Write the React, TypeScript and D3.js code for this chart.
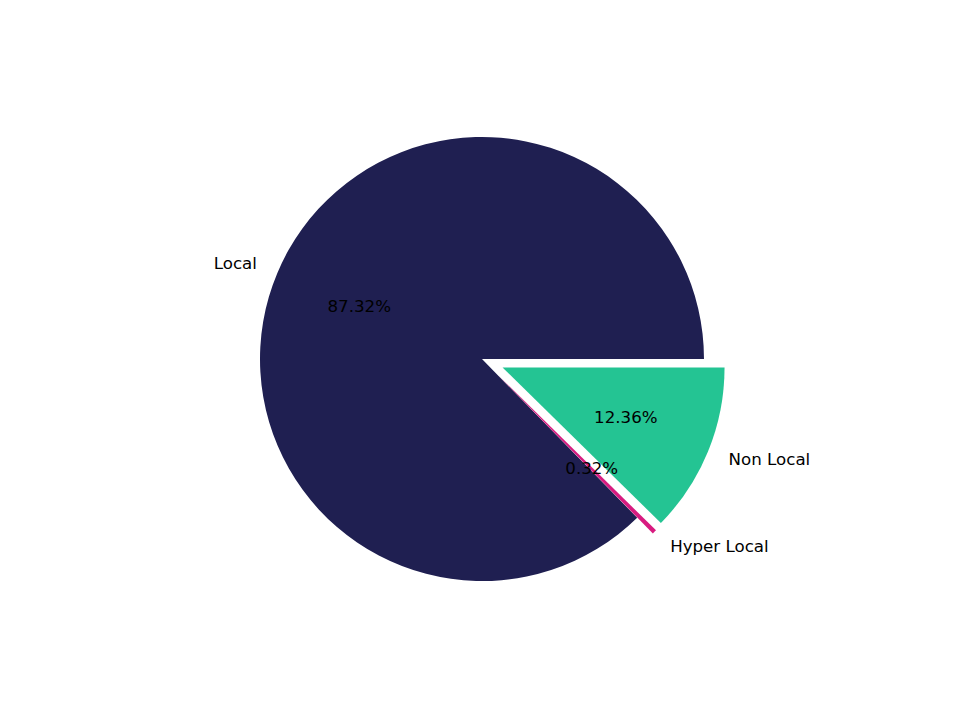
import * as d3 from "d3";
import { useEffect, useRef } from "react";

const labels = ["Local", "Hyper Local", "Non Local"];
const values = [87.32, 0.32, 12.36];
const colors = ["#1f1f51", "#d81b80", "#24c493"];
const explode = [0, 0.1, 0.1];

const App = () => {
    const svgRef = useRef<SVGSVGElement | null>(null);

    const dimensions = { width: 960, height: 720 };
    const center = { x: 482, y: 359 };
    const radius = 222;
    const fontSize = 16.67;

    useEffect(() => {
        const svg = d3.select(svgRef.current);
        svg.selectAll("*").remove();

        const data = labels.map((label, i) => ({
            label,
            value: values[i],
            color: colors[i],
            explode: explode[i],
        }));

        // matplotlib style: start at 3 o'clock, go counterclockwise
        const pie = d3
            .pie<(typeof data)[number]>()
            .sort(null)
            .value((d) => d.value)
            .startAngle(Math.PI / 2)
            .endAngle(Math.PI / 2 - 2 * Math.PI);

        const arc = d3.arc<d3.PieArcDatum<(typeof data)[number]>>()
            .innerRadius(0)
            .outerRadius(radius);

        const arcs = pie(data);

        const g = svg
            .append("g")
            .attr("transform", `translate(${center.x}, ${center.y})`);

        const point = (a: number, r: number) => [Math.sin(a) * r, -Math.cos(a) * r];
        const offset = (d: d3.PieArcDatum<(typeof data)[number]>) =>
            point((d.startAngle + d.endAngle) / 2, d.data.explode * radius);

        // wedges
        arcs.forEach((d) => {
            const [ox, oy] = offset(d);
            g.append("path")
                .attr("transform", `translate(${ox}, ${oy})`)
                .attr("d", arc(d))
                .attr("fill", d.data.color);
        });

        // labels and percentages on top
        arcs.forEach((d) => {
            const mid = (d.startAngle + d.endAngle) / 2;
            const [ox, oy] = offset(d);

            const [lx, ly] = point(mid, 1.1 * radius);
            g.append("text")
                .attr("x", ox + lx)
                .attr("y", oy + ly)
                .attr("dy", "0.28em")
                .attr("text-anchor", lx > 0 ? "start" : "end")
                .attr("font-family", "DejaVu Sans")
                .attr("font-size", fontSize)
                .attr("fill", "#000")
                .text(d.data.label);

            const [px, py] = point(mid, 0.6 * radius);
            g.append("text")
                .attr("x", ox + px)
                .attr("y", oy + py)
                .attr("dy", "0.28em")
                .attr("text-anchor", "middle")
                .attr("font-family", "DejaVu Sans")
                .attr("font-size", fontSize)
                .attr("fill", "#000")
                .text(`${d.data.value.toFixed(2)}%`);
        });
    }, []);

    return (
        <svg
            ref={svgRef}
            width={dimensions.width}
            height={dimensions.height}
            style={{ position: "absolute", left: 0, top: 0, background: "#fff" }}
        />
    );
};

export default App;
